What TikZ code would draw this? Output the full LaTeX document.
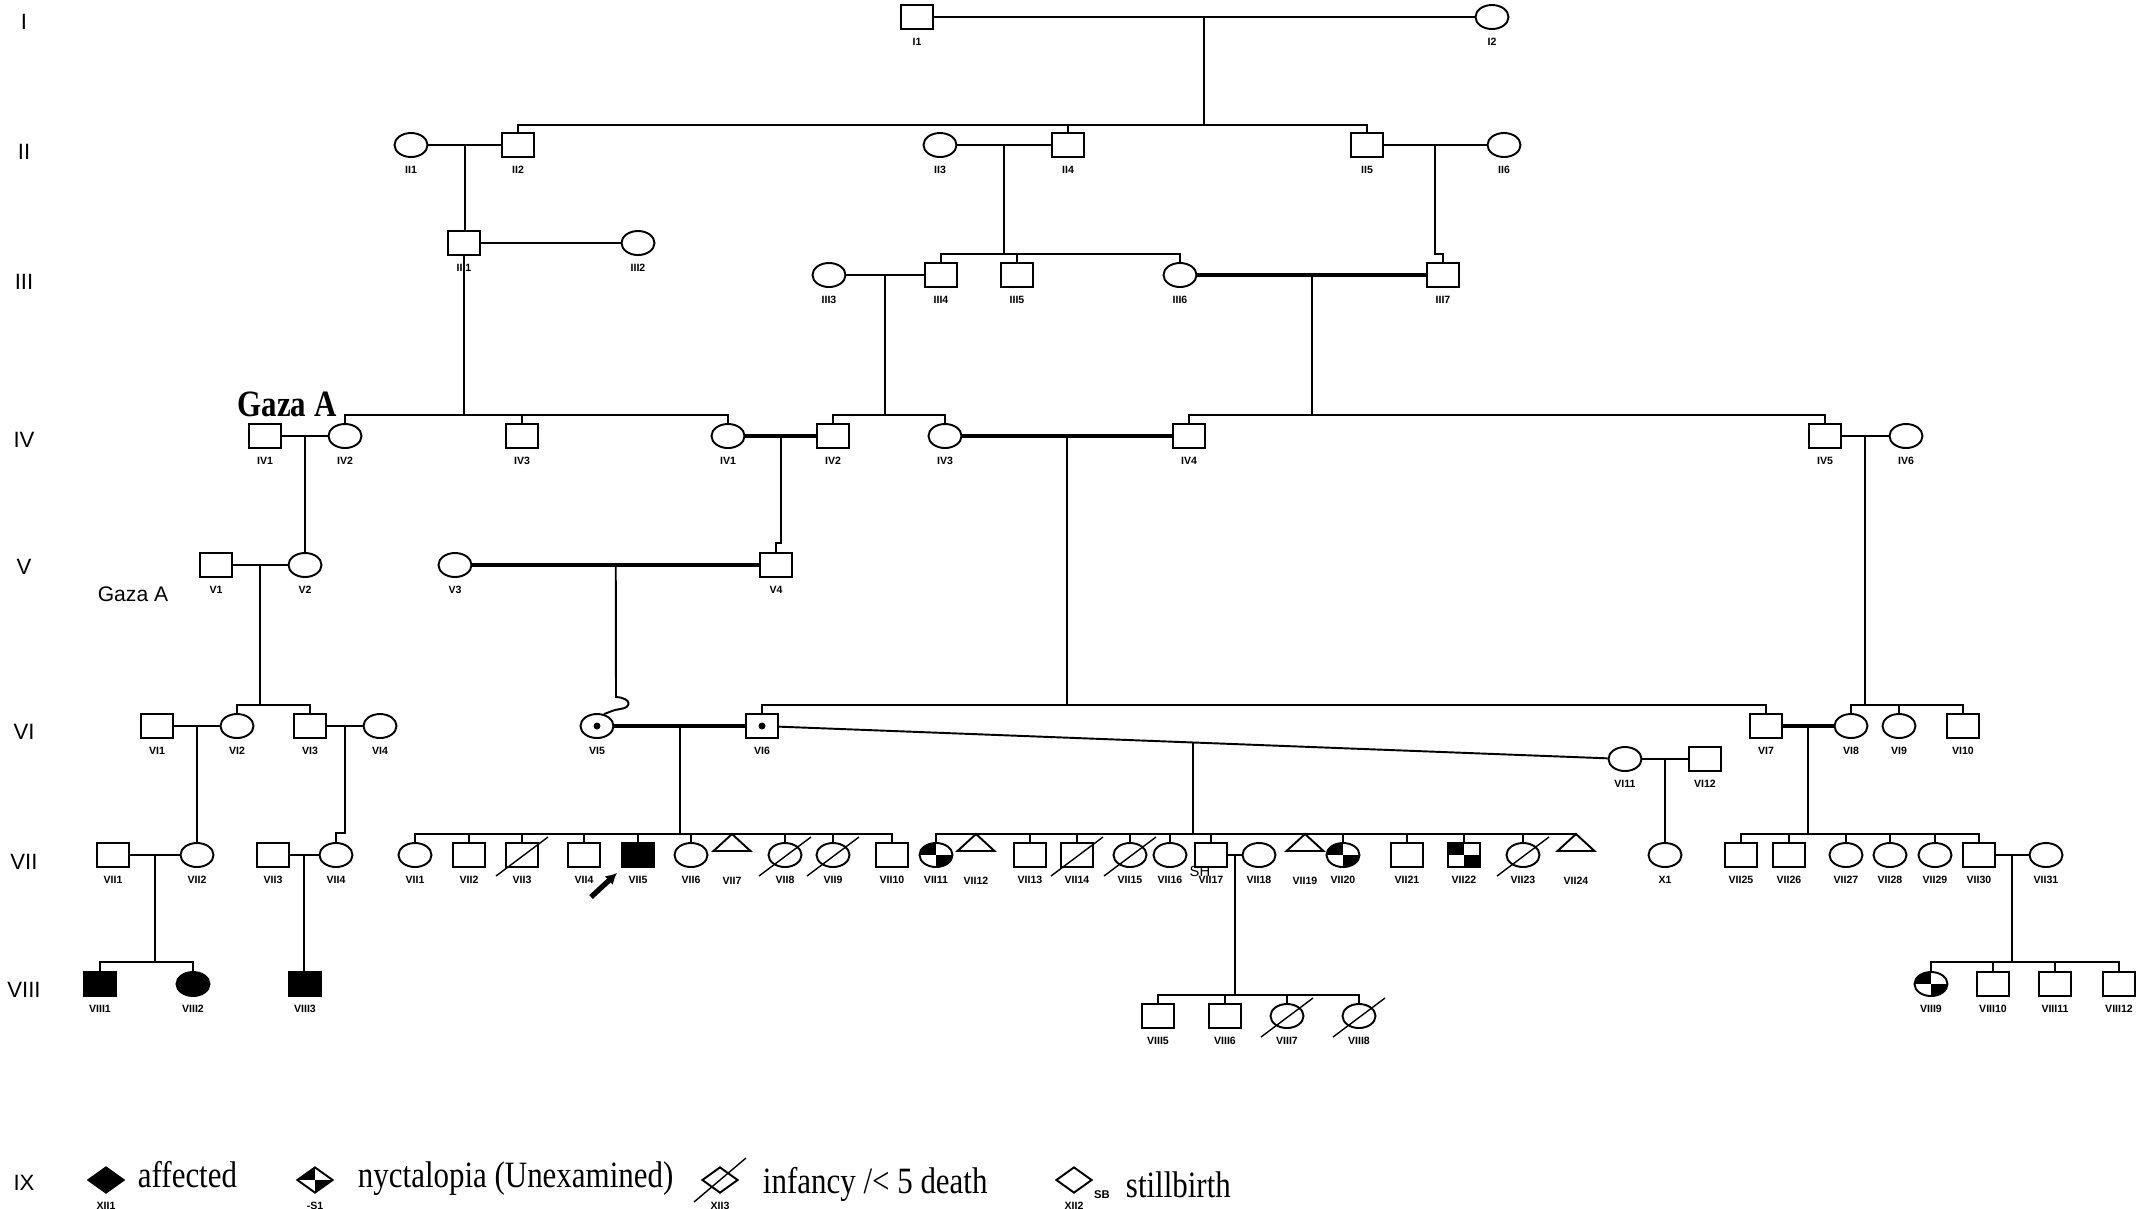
\documentclass[tikz,border=0pt]{standalone}
\usepackage{graphicx}
\usepackage{fontspec}
\newfontfamily\labfont{Liberation Sans}
\newfontfamily\serfont{Liberation Serif}
\usetikzlibrary{shapes.geometric,arrows.meta,calc}
\newcommand{\couple}[4][]{\draw[#1] (#2) -- (#3); \coordinate (#4) at ($(#2.east)!0.5!(#3.west)$);}
\newcommand{\sibline}[3]{\draw (#1.north) -- (#1.north |- #3) -- (#2.north |- #3) -- (#2.north);}
\newcommand{\kid}[2]{\draw (#1.north) -- (#1.north |- #2);}
\newcommand{\dead}[1]{\draw[line width=0.4pt] ([shift={(-26,21)}]#1.center) -- ([shift={(26,-18)}]#1.center);}
\newcommand{\trishape}[1]{\draw (#1.north) -- (#1.south west) -- (#1.south east) -- cycle;}
\newcommand{\tallt}[1]{\scalebox{1}[1.2]{#1}}
\begin{document}
\begin{tikzpicture}[x=0.01cm,y=-0.01cm,line width=0.55pt,
  every label/.style={font=\labfont\fontsize{3pt}{3pt}\selectfont\bfseries,inner sep=0pt},
  label distance=0.07cm,
  m/.style={draw,rectangle,minimum width=0.32cm,minimum height=0.24cm,inner sep=0pt},
  f/.style={draw,ellipse,minimum width=0.33cm,minimum height=0.24cm,inner sep=0pt},
  dm/.style={draw,diamond,minimum width=0.36cm,minimum height=0.26cm,inner sep=0pt},
  tri/.style={rectangle,minimum width=0.35cm,minimum height=0.15cm,inner sep=0pt},
  aff/.style={fill=black},
  quart/.style={path picture={\fill[black] (path picture bounding box.north west) rectangle (path picture bounding box.center); \fill[black] (path picture bounding box.center) rectangle (path picture bounding box.south east);}},
  cdot/.style={path picture={\fill[black] (path picture bounding box.center) circle (0.035cm);}},
  cons/.style={line width=1.2pt},
  gen/.style={font=\labfont\fontsize{6.3pt}{7pt}\selectfont,inner sep=0pt},
  leg/.style={font=\serfont\fontsize{8.8pt}{10pt}\selectfont,inner sep=0pt,anchor=base west},
]
\useasboundingbox (0,0) rectangle (2156,1208);
\fill[white] (0,0) rectangle (2156,1208);

% generation numerals
\node[gen] (gI) at (24,22) {I};
\node[gen] (gII) at (24,152) {II};
\node[gen] (gIII) at (24,282) {III};
\node[gen] (gIV) at (24,440) {IV};
\node[gen] (gV) at (24,567) {V};
\node[gen] (gVI) at (24,732) {VI};
\node[gen] (gVII) at (24,862) {VII};
\node[gen] (gVIII) at (24,990) {VIII};
\node[gen] (gIX) at (24,1183) {IX};

% levels
\coordinate (ysII) at (0,125);
\coordinate (ysIII) at (0,254);
\coordinate (ysIV) at (0,415);
\coordinate (yjV) at (0,543);
\coordinate (ysVI) at (0,705);
\coordinate (ysVII) at (0,834);
\coordinate (yjVII) at (0,833);
\coordinate (ysVIIIa) at (0,962);
\coordinate (ysVIIIb) at (0,995);

% Generation I
\node[m,label=below:I1] (I1) at (917,17) {};
\node[f,label=below:I2] (I2) at (1492,17) {};
\couple{I1}{I2}{mI}
\draw (mI) -- (mI |- ysII);

% Generation II
\node[f,label=below:II1] (II1) at (411,145) {};
\node[m,label=below:II2] (II2) at (518,145) {};
\node[f,label=below:II3] (II3) at (940,145) {};
\node[m,label=below:II4] (II4) at (1068,145) {};
\node[m,label=below:II5] (II5) at (1367,145) {};
\node[f,label=below:II6] (II6) at (1504,145) {};
\sibline{II2}{II5}{ysII}
\kid{II4}{ysII}
\couple{II1}{II2}{mII12}
\couple{II3}{II4}{mII34}
\couple{II5}{II6}{mII56}

% Generation III
\node[m,label=below:III1] (III1) at (464,243) {};
\node[f,label=below:III2] (III2) at (638,243) {};
\node[f,label=below:III3] (III3) at (829,275) {};
\node[m,label=below:III4] (III4) at (941,275) {};
\node[m,label=below:III5] (III5) at (1017,275) {};
\node[f,label=below:III6] (III6) at (1180,275) {};
\node[m,label=below:III7] (III7) at (1443,275) {};
\draw (mII12) -- (mII12 |- III1.north);
\couple{III1}{III2}{mIII12}
\draw (mII34) -- (mII34 |- ysIII);
\sibline{III4}{III6}{ysIII}
\kid{III5}{ysIII}
\draw (mII56) -- (mII56 |- ysIII) -| (III7.north);
\couple{III3}{III4}{mIII34}
\couple[cons]{III6}{III7}{mIII67}

% Generation IV
\node[font=\serfont\fontsize{8.8pt}{10pt}\selectfont\bfseries,inner sep=0pt] (gazaA) at (287,404) {\tallt{Gaza A}};
\node[m,label=below:IV1] (IV1) at (265,436) {};
\node[f,label=below:IV2] (IV2) at (345,436) {};
\node[m,label=below:IV3] (IV3) at (522,436) {};
\node[f,label=below:IV1] (IV4) at (728,436) {};
\node[m,label=below:IV2] (IV5) at (833,436) {};
\node[f,label=below:IV3] (IV6) at (945,436) {};
\node[m,label=below:IV4] (IV7) at (1189,436) {};
\node[m,label=below:IV5] (IV8) at (1825,436) {};
\node[f,label=below:IV6] (IV9) at (1906,436) {};
\draw (III1.south) -- (III1.south |- ysIV);
\sibline{IV2}{IV4}{ysIV}
\kid{IV3}{ysIV}
\draw (mIII34) -- (mIII34 |- ysIV);
\sibline{IV5}{IV6}{ysIV}
\draw (mIII67) -- (mIII67 |- ysIV);
\sibline{IV7}{IV8}{ysIV}
\couple{IV1}{IV2}{mIV12}
\couple[cons]{IV4}{IV5}{mIV45}
\couple[cons]{IV6}{IV7}{mIV67}
\couple{IV8}{IV9}{mIV89}

% Generation V
\node[font=\labfont\fontsize{6pt}{7pt}\selectfont,inner sep=0pt] (gazaB) at (133,594) {Gaza A};
\node[m,label=below:V1] (V1) at (216,565) {};
\node[f,label=below:V2] (V2) at (305,565) {};
\node[f,label=below:V3] (V3) at (455,565) {};
\node[m,label=below:V4] (V4) at (776,565) {};
\draw (mIV12) -- (mIV12 |- V2.north);
\draw (mIV45) -- (mIV45 |- yjV) -| (V4.north);
\couple{V1}{V2}{mV12}
\couple[cons]{V3}{V4}{mV34}

% Generation VI
\node[m,label=below:VI1] (VI1) at (157,726) {};
\node[f,label=below:VI2] (VI2) at (237,726) {};
\node[m,label=below:VI3] (VI3) at (310,726) {};
\node[f,label=below:VI4] (VI4) at (380,726) {};
\node[f,cdot,label=below:VI5] (VI5) at (597,726) {};
\node[m,cdot,label=below:VI6] (VI6) at (762,726) {};
\node[f,label=below:VI11] (VI11) at (1625,759) {};
\node[m,label=below:VI12] (VI12) at (1705,759) {};
\node[m,label=below:VI7] (VI7) at (1766,726) {};
\node[f,label=below:VI8] (VI8) at (1851,726) {};
\node[f,label=below:VI9] (VI9) at (1899,726) {};
\node[m,label=below:VI10] (VI10) at (1963,726) {};
\draw (mV12) -- (mV12 |- ysVI);
\sibline{VI2}{VI3}{ysVI}
\draw (mV34) -- (616,697) .. controls (632,698) and (632,708) .. (620,709) .. controls (613,710) and (610,712) .. (VI5.60);
\draw (mIV67) -- (mIV67 |- ysVI);
\sibline{VI6}{VI7}{ysVI}
\draw (mIV89) -- (mIV89 |- ysVI);
\sibline{VI8}{VI10}{ysVI}
\kid{VI9}{ysVI}
\couple{VI1}{VI2}{mVI12}
\couple{VI3}{VI4}{mVI34}
\couple[cons]{VI5}{VI6}{mVI56}
\couple{VI6}{VI11}{mVI611}
\couple{VI11}{VI12}{mVI1112}
\couple[cons]{VI7}{VI8}{mVI78}

% Generation VII
\node[m,label=below:VII1] (VII1) at (113,855) {};
\node[f,label=below:VII2] (VII2) at (197,855) {};
\node[m,label=below:VII3] (VII3) at (273,855) {};
\node[f,label=below:VII4] (VII4) at (336,855) {};
\draw (mVI12) -- (mVI12 |- VII2.north);
\draw (mVI34) -- (mVI34 |- yjVII) -| (VII4.north);
\couple{VII1}{VII2}{mVII12}
\couple{VII3}{VII4}{mVII34}

\node[f,label=below:VII1] (c1) at (415,855) {};
\node[m,label=below:VII2] (c2) at (469,855) {};
\node[m,label=below:VII3] (c3) at (522,855) {};
\node[m,label=below:VII4] (c4) at (584,855) {};
\node[m,aff,label=below:VII5] (c5) at (638,855) {};
\node[f,label=below:VII6] (c6) at (691,855) {};
\node[tri,label={[label distance=0.25cm]below:VII7}] (c7) at (732,842.5) {};
\node[f,label=below:VII8] (c8) at (785,855) {};
\node[f,label=below:VII9] (c9) at (833,855) {};
\node[m,label=below:VII10] (c10) at (892,855) {};
\trishape{c7}
\draw (mVI56) -- (mVI56 |- ysVII);
\sibline{c1}{c10}{ysVII}
\kid{c2}{ysVII} \kid{c3}{ysVII} \kid{c4}{ysVII} \kid{c5}{ysVII}
\kid{c6}{ysVII} \kid{c8}{ysVII} \kid{c9}{ysVII}
\dead{c3} \dead{c8} \dead{c9}
\coordinate (pa) at ([shift={(-47,42)}]c5.center);
\coordinate (pb) at ([shift={(-21,18)}]c5.center);
\draw[line width=1.5pt,-{Latex[length=0.11cm,width=0.12cm]}] (pa) -- (pb);

\node[f,quart,label=below:VII11] (c11) at (936,855) {};
\node[tri,label={[label distance=0.25cm]below:VII12}] (c12) at (976,842.5) {};
\node[m,label=below:VII13] (c13) at (1030,855) {};
\node[m,label=below:VII14] (c14) at (1077,855) {};
\node[f,label=below:VII15] (c15) at (1130,855) {};
\node[f,label=below:VII16] (c16) at (1170,855) {};
\node[m,label=below:VII17] (c17) at (1211,855) {};
\node[f,label=below:VII18] (c18) at (1259,855) {};
\node[tri,label={[label distance=0.25cm]below:VII19}] (c19) at (1305,842.5) {};
\node[f,quart,label=below:VII20] (c20) at (1343,855) {};
\node[m,label=below:VII21] (c21) at (1407,855) {};
\node[m,quart,label=below:VII22] (c22) at (1464,855) {};
\node[f,label=below:VII23] (c23) at (1523,855) {};
\node[tri,label={[label distance=0.25cm]below:VII24}] (c24) at (1576,842.5) {};
\trishape{c12} \trishape{c19} \trishape{c24}
\node[font=\labfont\fontsize{4.2pt}{5pt}\selectfont,inner sep=0pt] (SH) at (1200,871) {SH};
\draw (mVI611) -- (mVI611 |- ysVII);
\sibline{c11}{c24}{ysVII}
\kid{c13}{ysVII} \kid{c14}{ysVII} \kid{c15}{ysVII} \kid{c16}{ysVII} \kid{c17}{ysVII}
\kid{c20}{ysVII} \kid{c21}{ysVII} \kid{c22}{ysVII} \kid{c23}{ysVII}
\dead{c14} \dead{c15} \dead{c23}
\couple{c17}{c18}{mc1718}

\node[f,label=below:X1] (X1) at (1665,855) {};
\draw (mVI1112) -- (mVI1112 |- X1.north);

\node[m,label=below:VII25] (c25) at (1741,855) {};
\node[m,label=below:VII26] (c26) at (1789,855) {};
\node[f,label=below:VII27] (c27) at (1846,855) {};
\node[f,label=below:VII28] (c28) at (1890,855) {};
\node[f,label=below:VII29] (c29) at (1935,855) {};
\node[m,label=below:VII30] (c30) at (1979,855) {};
\node[f,label=below:VII31] (c31) at (2046,855) {};
\draw (mVI78) -- (mVI78 |- ysVII);
\sibline{c25}{c30}{ysVII}
\kid{c26}{ysVII} \kid{c27}{ysVII} \kid{c28}{ysVII} \kid{c29}{ysVII}
\couple{c30}{c31}{mc3031}

% Generation VIII
\node[m,aff,label=below:VIII1] (VIII1) at (100,984) {};
\node[f,aff,label=below:VIII2] (VIII2) at (193,984) {};
\node[m,aff,label=below:VIII3] (VIII3) at (305,984) {};
\draw (mVII12) -- (mVII12 |- ysVIIIa);
\sibline{VIII1}{VIII2}{ysVIIIa}
\draw (mVII34) -- (mVII34 |- VIII3.north);

\node[m,label=below:VIII5] (d5) at (1158,1016) {};
\node[m,label=below:VIII6] (d6) at (1225,1016) {};
\node[f,label=below:VIII7] (d7) at (1287,1016) {};
\node[f,label=below:VIII8] (d8) at (1359,1016) {};
\draw (mc1718) -- (mc1718 |- ysVIIIb);
\sibline{d5}{d8}{ysVIIIb}
\kid{d6}{ysVIIIb} \kid{d7}{ysVIIIb}
\dead{d7} \dead{d8}

\node[f,quart,label=below:VIII9] (d9) at (1931,984) {};
\node[m,label=below:VIII10] (d10) at (1993,984) {};
\node[m,label=below:VIII11] (d11) at (2055,984) {};
\node[m,label=below:VIII12] (d12) at (2119,984) {};
\draw (mc3031) -- (mc3031 |- ysVIIIa);
\sibline{d9}{d12}{ysVIIIa}
\kid{d10}{ysVIIIa} \kid{d11}{ysVIIIa}

% Legend
\node[dm,aff,label=below:XII1] (Laff) at (106,1180) {};
\node[leg] (Taff) at (137,1187) {\tallt{affected}};
\node[dm,quart,label=below:-S1] (Lnyc) at (315,1180) {};
\node[leg] (Tnyc) at (357,1187) {\tallt{nyctalopia (Unexamined)}};
\node[dm,label=below:XII3] (Linf) at (720,1180) {};
\draw[line width=0.4pt] ([shift={(-26,22)}]Linf.center) -- ([shift={(26,-22)}]Linf.center);
\node[leg] (Tinf) at (762,1193) {\tallt{infancy /< 5 death}};
\node[dm,label=below:XII2] (Lsb) at (1074,1180) {};
\node[font=\labfont\fontsize{3.2pt}{3.2pt}\selectfont\bfseries,inner sep=0pt] (Lsbt) at (1102,1195) {SB};
\node[leg] (Tsb) at (1125,1197) {\tallt{stillbirth}};
\end{tikzpicture}
\end{document}
